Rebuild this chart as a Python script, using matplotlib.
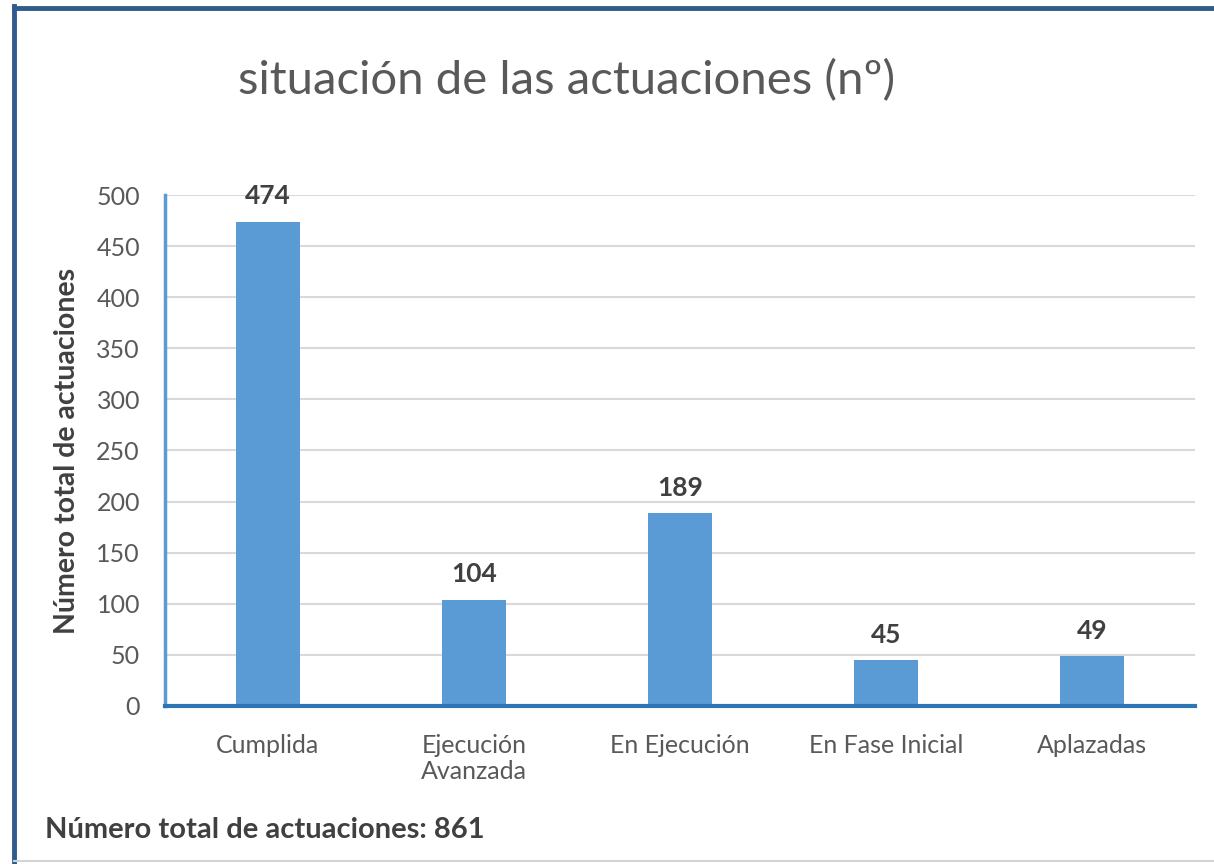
import matplotlib.pyplot as plt
from matplotlib.lines import Line2D

# DATA
categories = ["Cumplida", "Ejecución\nAvanzada", "En Ejecución", "En Fase Inicial", "Aplazadas"]
values = [474, 104, 189, 45, 49]
yticks = [0, 50, 100, 150, 200, 250, 300, 350, 400, 450, 500]

plt.rcParams["font.family"] = ["Lato", "DejaVu Sans"]

fig = plt.figure(figsize=(12.14, 8.64), dpi=100)
ax = fig.add_axes([0.1359, 0.1829, 0.8484, 0.5914])

bar_color = "#5B9BD5"
text_gray = "#595959"

x = list(range(len(categories)))
ax.bar(x, values, width=0.31, color=bar_color, zorder=3)
for xi, v in zip(x, values):
    ax.text(xi, v + 13, str(v), ha="center", va="bottom", fontsize=19,
            fontweight="bold", color="#404040")

ax.set_xlim(-0.5, len(categories) - 0.5)
ax.set_ylim(0, 500)
ax.set_yticks(yticks)
ax.set_xticks(x)
ax.set_xticklabels(categories, fontsize=18, color=text_gray, linespacing=1.15)
ax.tick_params(axis="y", labelsize=18, labelcolor=text_gray, length=0, pad=18)
ax.tick_params(axis="x", length=0, pad=20)
ax.grid(axis="y", color="#D9D9D9", linewidth=1.5, zorder=0)

for s in ["top", "right"]:
    ax.spines[s].set_visible(False)
ax.spines["left"].set_color(bar_color)
ax.spines["left"].set_linewidth(2.5)
ax.spines["bottom"].set_color("#2E75B6")
ax.spines["bottom"].set_linewidth(3)
ax.spines["bottom"].set_zorder(4)

ax.set_ylabel("Número total de actuaciones", fontsize=20.5, fontweight="bold",
              color="#404040", labelpad=12)

fig.text(0.467, 0.907, "situación de las actuaciones (nº)", ha="center", va="center",
         fontsize=34, color=text_gray)
fig.text(0.037, 0.039, "Número total de actuaciones: 861", ha="left", va="center",
         fontsize=21, fontweight="bold", color="#404040")

# frame around the chart: dark top and left, light bottom
fig.add_artist(Line2D([0.0115, 1.0], [0.9905, 0.9905], transform=fig.transFigure,
                      color="#2F5C8A", linewidth=3.5))
fig.add_artist(Line2D([0.0115, 0.0115], [0.0, 0.9925], transform=fig.transFigure,
                      color="#2F5C8A", linewidth=3.5))
fig.add_artist(Line2D([0.0115, 1.0], [0.003, 0.003], transform=fig.transFigure,
                      color="#D0D4D8", linewidth=1.5))

fig.savefig("out.png", dpi=100)
